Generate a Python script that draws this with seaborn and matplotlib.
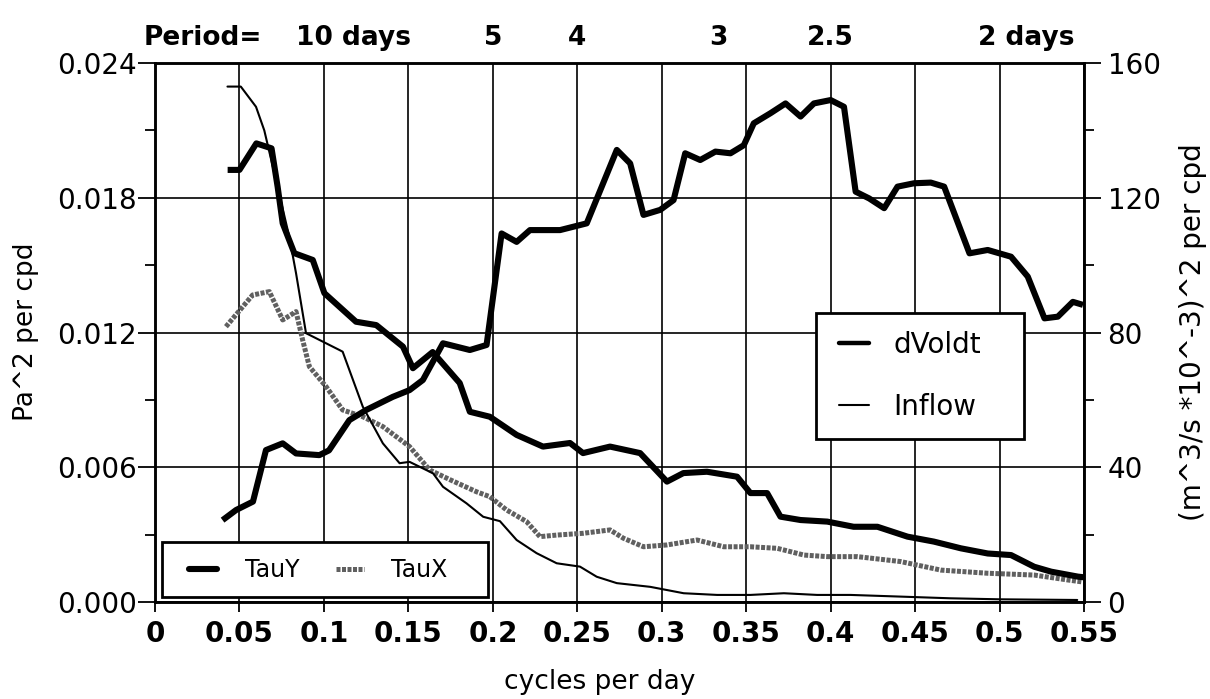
import matplotlib
matplotlib.use("Agg")
import matplotlib.pyplot as plt
import matplotlib.transforms as mtransforms
from matplotlib.lines import Line2D
from matplotlib.patches import Rectangle
import numpy as np
import seaborn as sns

# Wind stress spectra (left axis, Pa^2 per cpd)
tauy_freq = [0.043, 0.050, 0.060, 0.069, 0.0726, 0.0756, 0.0825, 0.0934, 0.1003, 0.119,
             0.131, 0.1468, 0.1527, 0.1644, 0.1804, 0.1864, 0.1982, 0.2141, 0.2297, 0.2457,
             0.2534, 0.2694, 0.2872, 0.3031, 0.3128, 0.3268, 0.3446, 0.3525, 0.3624, 0.3703,
             0.3822, 0.398, 0.4136, 0.4277, 0.4455, 0.4611, 0.4771, 0.493, 0.5068, 0.5205,
             0.5306, 0.5464, 0.550]
tauy_psd = [0.01924, 0.01924, 0.02042, 0.0202, 0.01849, 0.01686, 0.01553, 0.01523, 0.01375, 0.01248,
            0.01233, 0.01137, 0.01041, 0.01113, 0.00975, 0.00847, 0.00825, 0.00744, 0.00692, 0.00708,
            0.00663, 0.00692, 0.00663, 0.00536, 0.00574, 0.0058, 0.00558, 0.00485, 0.00485, 0.0038,
            0.00365, 0.00358, 0.00335, 0.00335, 0.00291, 0.00269, 0.00239, 0.00216, 0.00209, 0.00157,
            0.00135, 0.00113, 0.00110]

taux_freq = [0.042, 0.0578, 0.0677, 0.0756, 0.0835, 0.0874, 0.0914, 0.1013, 0.1111, 0.123,
             0.1349, 0.1507, 0.1626, 0.1745, 0.1903, 0.1982, 0.2081, 0.22, 0.2279, 0.2378,
             0.2536, 0.2694, 0.2773, 0.2892, 0.3031, 0.3209, 0.3367, 0.3525, 0.3684, 0.3842,
             0.398, 0.4158, 0.4415, 0.4653, 0.493, 0.5205, 0.5405, 0.5484]
taux_psd = [0.01226, 0.01367, 0.01382, 0.01256, 0.01293, 0.01167, 0.01048, 0.00959, 0.00855, 0.00825,
            0.00781, 0.00692, 0.00588, 0.00545, 0.00491, 0.00469, 0.0041, 0.00358, 0.00291, 0.00298,
            0.00306, 0.00321, 0.00284, 0.00246, 0.00254, 0.00276, 0.00246, 0.00246, 0.00239, 0.00209,
            0.00202, 0.00202, 0.0018, 0.00142, 0.00128, 0.0012, 0.00098, 0.0009]

# Volume-flux spectra (right axis, (m^3/s *10^-3)^2 per cpd)
dvoldt_freq = [0.040, 0.048, 0.058, 0.0657, 0.0756, 0.0835, 0.0973, 0.103, 0.1151, 0.125,
               0.1408, 0.1507, 0.1586, 0.1705, 0.1864, 0.1963, 0.2052, 0.2141, 0.222, 0.2398,
               0.2556, 0.2734, 0.2813, 0.2892, 0.2991, 0.307, 0.3139, 0.3228, 0.3318, 0.3407,
               0.3486, 0.3545, 0.3644, 0.3733, 0.3822, 0.3901, 0.400, 0.4079, 0.4148, 0.4228,
               0.4317, 0.4396, 0.4494, 0.4593, 0.4672, 0.4822, 0.4930, 0.5068, 0.5167, 0.5266,
               0.5345, 0.5434, 0.5494]
dvoldt_psd = [24.3, 27.3, 29.8, 45.1, 47.1, 44.1, 43.6, 45.0, 54.0, 57.0,
              60.9, 62.9, 65.9, 76.8, 74.8, 76.3, 109.4, 106.9, 110.4, 110.4,
              112.4, 134.2, 130.2, 114.9, 116.4, 119.3, 133.2, 131.2, 133.7, 133.2,
              135.6, 142.1, 145.1, 148.0, 144.1, 148.0, 149.0, 147.0, 121.8, 119.8,
              116.9, 123.3, 124.3, 124.5, 123.3, 103.5, 104.5, 102.5, 96.6, 84.2,
              84.7, 89.1, 88.2]

inflow_freq = [0.0429, 0.0508, 0.0598, 0.0647, 0.0716, 0.0795, 0.0835, 0.0894, 0.1092, 0.1111,
               0.123, 0.1349, 0.1448, 0.1507, 0.1646, 0.1705, 0.1844, 0.1943, 0.2042, 0.2141,
               0.2259, 0.2378, 0.2516, 0.2615, 0.2734, 0.2932, 0.313, 0.3328, 0.3525, 0.3723,
               0.392, 0.4118, 0.4415, 0.471, 0.500, 0.546]
inflow_psd = [153.0, 153.0, 147.0, 140.0, 125.3, 108.4, 97.6, 79.8, 74.8, 74.3,
              58.0, 47.1, 41.2, 41.6, 38.2, 34.2, 29.3, 25.3, 24.0, 18.4,
              14.5, 11.5, 10.5, 7.5, 5.6, 4.5, 2.6, 2.1, 2.1, 2.6,
              2.1, 2.1, 1.6, 1.1, 0.8, 0.6]

x_ticks = [0, 0.05, 0.1, 0.15, 0.2, 0.25, 0.3, 0.35, 0.4, 0.45, 0.5, 0.55]
x_tick_labels = ["0", "0.05", "0.1", "0.15", "0.2", "0.25", "0.3", "0.35", "0.4", "0.45", "0.5", "0.55"]
left_ticks = [0.000, 0.006, 0.012, 0.018, 0.024]
right_ticks = [0, 40, 80, 120, 160]

# Period annotations along the top (text, frequency anchor, alignment)
period_labels = [("Period=", -0.0065, "left"), ("10 days", 0.0837, "left"), ("5", 0.2, "center"),
                 ("4", 0.25, "center"), ("3", 1 / 3, "center"), ("2.5", 0.4, "center"),
                 ("2 days", 0.487, "left")]

sns.set_theme(style="white")
plt.rcParams["font.family"] = ["DejaVu Sans"]
plt.rcParams["axes.linewidth"] = 1.8
plt.rcParams["text.color"] = "black"
plt.rcParams["xtick.color"] = "black"
plt.rcParams["ytick.color"] = "black"
plt.rcParams["axes.labelcolor"] = "black"

fig = plt.figure(figsize=(12.1, 6.99), dpi=100)
ax = fig.add_axes([155 / 1210, 1 - 602 / 699, (1084 - 155) / 1210, (602 - 63) / 699])
ax2 = ax.twinx()

TAUY_LW, DVOL_LW, INFLOW_LW, TAUX_LW = 4.4, 4.4, 1.5, 3.6
taux_color = "#606060"
taux_dash = (0, (0.8, 0.3))

sns.lineplot(x=tauy_freq, y=tauy_psd, ax=ax, color="black", lw=TAUY_LW, sort=False,
             legend=False, solid_joinstyle="round", solid_capstyle="butt", zorder=4)
sns.lineplot(x=taux_freq, y=taux_psd, ax=ax, color=taux_color, lw=TAUX_LW, sort=False,
             legend=False, linestyle=taux_dash, zorder=3)
sns.lineplot(x=dvoldt_freq, y=dvoldt_psd, ax=ax2, color="black", lw=DVOL_LW, sort=False,
             legend=False, solid_joinstyle="round", solid_capstyle="butt", zorder=4)
sns.lineplot(x=inflow_freq, y=inflow_psd, ax=ax2, color="black", lw=INFLOW_LW, sort=False,
             legend=False, zorder=3)

ax.set_xlim(0, 0.55)
ax.set_ylim(0, 0.024)
ax2.set_ylim(0, 160)

ax.set_xticks(x_ticks)
ax.set_xticklabels(x_tick_labels, fontsize=20, fontweight="bold", color="black")
ax.set_yticks(left_ticks)
ax.set_yticklabels([f"{v:.3f}" for v in left_ticks], fontsize=20, color="black")
ax.set_yticks(np.arange(0.003, 0.024, 0.006), minor=True)
ax2.set_yticks(right_ticks)
ax2.set_yticklabels([str(v) for v in right_ticks], fontsize=20, color="black")
ax2.set_yticks(np.arange(20, 160, 40), minor=True)

for a in (ax, ax2):
    a.tick_params(which="major", direction="out", width=1.3, color="black")
    a.tick_params(which="minor", direction="out", width=1.3, color="black")
    for s in a.spines.values():
        s.set_color("black")
        s.set_linewidth(1.8)
ax.tick_params(axis="x", which="major", length=7, pad=6, bottom=True, top=False)
ax.tick_params(axis="y", which="major", length=12, pad=1, left=True, right=False)
ax.tick_params(axis="y", which="minor", length=7, left=True, right=False)
ax2.tick_params(axis="y", which="major", length=12, pad=5, right=True, left=False)
ax2.tick_params(axis="y", which="minor", length=7, right=True, left=False)

ax.grid(True, which="major", color="black", lw=1.2)
ax.set_axisbelow(True)
ax2.grid(False)
ax.set_xlabel("")
ax.set_ylabel("")
ax2.set_ylabel("")

# Axis titles
fig.text(600 / 1210, 1 - 682 / 699, "cycles per day", ha="center", va="center", fontsize=19,
         color="black")
fig.text(26 / 1210, 1 - 332 / 699, "Pa^2 per cpd", ha="center", va="center", rotation=90,
         fontsize=19, color="black")
fig.text(1193 / 1210, 1 - 332 / 699, "(m^3/s *10^-3)^2 per cpd", ha="center", va="center",
         rotation=90, fontsize=20, color="black")

# Period labels above the frame
trans = mtransforms.blended_transform_factory(ax.transData, fig.transFigure)
for txt, xf, ha in period_labels:
    ax.text(xf, 1 - 45 / 699, txt, transform=trans, ha=ha, va="baseline",
            fontsize=19, fontweight="bold", color="black", clip_on=False)

# Legend frames
for (x0, y0, w, h) in [(0.0075, 0.0093, 0.3512, 0.102), (0.7115, 0.3024, 0.2244, 0.2338)]:
    ax2.add_patch(Rectangle((x0, y0), w, h, transform=ax2.transAxes, facecolor="white",
                            edgecolor="black", lw=2.0, zorder=6, clip_on=False))

# Legends
h_tauy = Line2D([], [], color="black", lw=TAUY_LW)
h_taux = Line2D([], [], color=taux_color, lw=TAUX_LW, linestyle=taux_dash)
leg1 = ax2.legend([h_tauy, h_taux], ["TauY", "TauX"], loc="center left",
                  bbox_to_anchor=(0.0367, 0.0594), ncol=2,
                  fontsize=17, handlelength=1.2, handletextpad=1.15, columnspacing=1.55,
                  frameon=False, borderaxespad=0, borderpad=0, labelcolor="black")
leg1.set_zorder(7)
ax2.add_artist(leg1)

h_dvol = Line2D([], [], color="black", lw=3.2)
h_inflow = Line2D([], [], color="black", lw=1.5)
leg2 = ax2.legend([h_dvol, h_inflow], ["dVoldt", "Inflow"], loc="center left",
                  bbox_to_anchor=(0.7368, 0.4193),
                  fontsize=20, handlelength=1.08, handletextpad=0.86, labelspacing=1.22,
                  frameon=False, borderaxespad=0, borderpad=0, labelcolor="black")
leg2.set_zorder(7)

fig.savefig("out.png", dpi=100)
